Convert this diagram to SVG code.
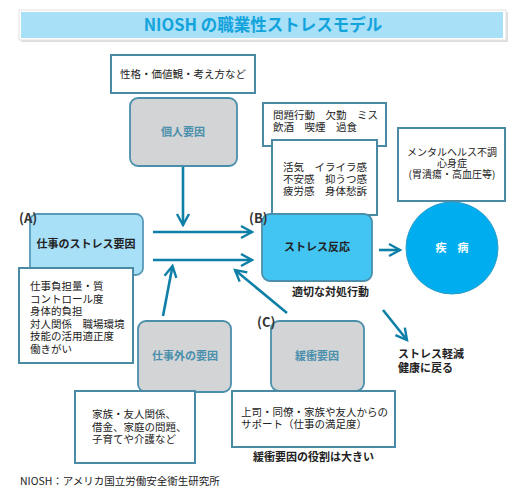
<svg xmlns="http://www.w3.org/2000/svg" width="516" height="489" viewBox="0 0 516 489">
<defs>
<style>
text{font-family:"Noto Sans CJK JP","Noto Sans",sans-serif;fill:#222;}
.t{font-size:10.5px;}
.s{font-size:10px;}
.b{font-size:11px;font-weight:bold;}
.g{font-size:11px;font-weight:bold;fill:#4a8fab;}
.box{fill:#fff;stroke:#4a8aa5;stroke-width:2;}
.gray{fill:#d3d4d6;stroke:#4a8fab;stroke-width:1.8;}
.arr{stroke:#0e7fa6;stroke-width:2.6;fill:none;marker-end:url(#ah);}
.lbl{font-size:13px;font-weight:bold;fill:#333;}
</style>
<marker id="ah" markerUnits="userSpaceOnUse" markerWidth="16" markerHeight="16" refX="12" refY="7" orient="auto" viewBox="0 0 16 14">
<path d="M1,1 L12,7 L1,13" fill="none" stroke="#0e7fa6" stroke-width="2.4"/>
</marker>
</defs>

<g id="title">
<rect x="21" y="12" width="487" height="30" fill="#c8c8c8" opacity="0.6"/>
<rect x="19" y="10" width="487" height="30" fill="#fff" stroke="#e2e2e2" stroke-width="1"/>
<rect x="21" y="12" width="482" height="26" fill="#a8e0f8"/>
<text x="263" y="31" text-anchor="middle" style="font-size:16.5px;font-weight:bold;fill:#13a3dc;">NIOSH の職業性ストレスモデル</text>
</g>

<g id="connectors">
<line class="arr" x1="183" y1="166" x2="183" y2="225"/>
<line class="arr" x1="153" y1="232" x2="252" y2="232"/>
<line class="arr" x1="153" y1="260" x2="252" y2="260"/>
<line class="arr" x1="163" y1="316" x2="172.5" y2="266"/>
<line class="arr" x1="287" y1="313" x2="235" y2="270"/>
<line class="arr" x1="379" y1="250" x2="400" y2="250"/>
<line class="arr" x1="383" y1="310" x2="407" y2="340"/>
</g>

<g id="personality">
<rect class="box" x="111" y="55" width="144" height="38"/>
<text class="t" x="183" y="78" text-anchor="middle">性格・価値観・考え方など</text>
</g>

<g id="individual">
<rect class="gray" x="130" y="98" width="107" height="68" rx="8"/>
<text class="g" x="183" y="136" text-anchor="middle">個人要因</text>
</g>

<g id="jobstress">
<rect x="30" y="214" width="113" height="61" rx="7" fill="#a8e0f8" stroke="#5a9ab8" stroke-width="1.8"/>
<text class="b" x="86" y="248" text-anchor="middle">仕事のストレス要因</text>
<text class="lbl" x="19" y="223">(A)</text>
</g>

<g id="joblist">
<rect class="box" x="19" y="268" width="114" height="95"/>
<text class="t"><tspan x="30" y="290">仕事負担量・質</tspan><tspan x="30" y="302.5">コントロール度</tspan><tspan x="30" y="315">身体的負担</tspan><tspan x="30" y="327.5">対人関係　職場環境</tspan><tspan x="30" y="340">技能の活用適正度</tspan><tspan x="30" y="352.5">働きがい</tspan></text>
</g>

<g id="nonwork">
<rect class="gray" x="138" y="321" width="93" height="71" rx="8"/>
<text class="g" x="185" y="360" text-anchor="middle">仕事外の要因</text>
</g>

<g id="nonworklist">
<rect class="box" x="75" y="391" width="120" height="72"/>
<text class="t"><tspan x="92" y="418">家族・友人関係、</tspan><tspan x="92" y="430.5">借金、家庭の問題、</tspan><tspan x="92" y="443">子育てや介護など</tspan></text>
</g>

<g id="behavior">
<rect class="box" x="263" y="103" width="123" height="43"/>
<text class="t"><tspan x="273" y="119">問題行動　欠勤　ミス</tspan><tspan x="273" y="131">飲酒　喫煙　過食</tspan></text>
</g>

<g id="psych">
<rect class="box" x="272" y="140" width="105" height="75"/>
<text class="t"><tspan x="283" y="171">活気　イライラ感</tspan><tspan x="283" y="183">不安感　抑うつ感</tspan><tspan x="283" y="195">疲労感　身体愁訴</tspan></text>
</g>

<g id="stressresp">
<rect x="262" y="214" width="110" height="67" rx="8" fill="#42c5f2" stroke="#4a8fab" stroke-width="1.8"/>
<text class="b" x="317" y="251" text-anchor="middle">ストレス反応</text>
<text class="lbl" x="249" y="223">(B)</text>
</g>

<g id="illnesslist">
<rect class="box" x="398" y="128" width="107" height="73"/>
<text class="s" text-anchor="middle"><tspan x="452" y="156">メンタルヘルス不調</tspan><tspan x="452" y="167">心身症</tspan><tspan x="452" y="178">(胃潰瘍・高血圧等)</tspan></text>
</g>

<g id="illness">
<circle cx="452" cy="248" r="46" fill="#00aeef" stroke="#2a9cc8" stroke-width="1"/>
<text x="452" y="252" text-anchor="middle" style="font-size:11px;font-weight:bold;fill:#fff;">疾　病</text>
</g>

<text class="b" x="292" y="296">適切な対処行動</text>

<g id="relief">
<text class="b"><tspan x="398" y="358">ストレス軽減</tspan><tspan x="398" y="372">健康に戻る</tspan></text>
</g>

<g id="buffer">
<rect class="gray" x="271" y="321" width="93" height="70" rx="8"/>
<text class="g" x="317" y="360" text-anchor="middle">緩衝要因</text>
<text class="lbl" x="257" y="327">(C)</text>
</g>

<g id="supportlist">
<rect class="box" x="232" y="391" width="163" height="56"/>
<text class="t"><tspan x="241" y="416">上司・同僚・家族や友人からの</tspan><tspan x="241" y="428">サポート（仕事の満足度）</tspan></text>
</g>

<text class="b" x="253" y="461">緩衝要因の役割は大きい</text>

<text class="t" x="20" y="485">NIOSH：アメリカ国立労働安全衛生研究所</text>
</svg>
